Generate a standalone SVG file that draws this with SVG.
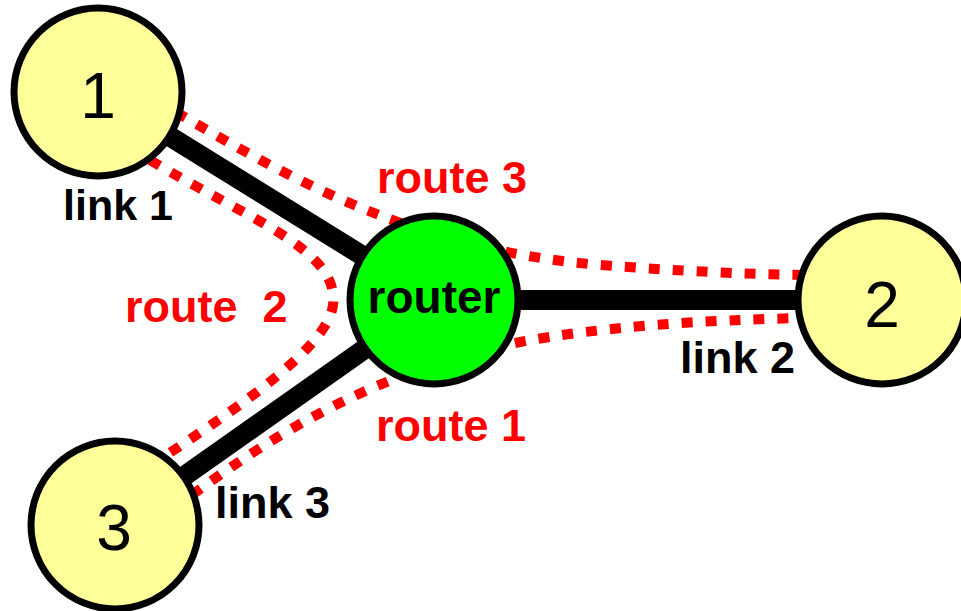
<svg xmlns="http://www.w3.org/2000/svg" width="961" height="611" viewBox="0 0 961 611">
<style>
.link{stroke:#000;stroke-width:20;fill:none}
.route{stroke:#ff0000;stroke-width:10;fill:none;stroke-dasharray:11 13}
.host{fill:#ffff99;stroke:#000;stroke-width:7}
.rtr{fill:#00ff00;stroke:#000;stroke-width:7}
.num{font-family:"Liberation Sans",Arial,sans-serif;font-size:64px;fill:#000;text-anchor:middle}
.lbl{font-family:"Liberation Sans",Arial,sans-serif;font-weight:bold;font-size:45px;fill:#000}
.rlbl{font-family:"Liberation Sans",Arial,sans-serif;font-weight:bold;font-size:45px;fill:#ff0000}
</style>
<rect width="961" height="611" fill="#fff"/>
<g id="connectors">
<line class="link" x1="98" y1="92" x2="434" y2="300"/>
<line class="link" x1="434" y1="300" x2="882" y2="300"/>
<line class="link" x1="115" y1="525" x2="434" y2="300"/>
<path class="route" d="M176 112 C300 185,420 250,600 265 C680 271,740 274,805 275"/>
<path class="route" d="M150 160 C250 220,340 250,333 305 C328 345,250 400,162 458"/>
<path class="route" d="M192 495 C280 430,380 370,520 342 C600 327,700 320,805 318"/>
</g>
<g id="node1"><circle class="host" cx="98" cy="92" r="84"/><text class="num" x="98" y="118">1</text></g>
<g id="node2"><circle class="host" cx="882" cy="300" r="84"/><text class="num" x="882" y="327">2</text></g>
<g id="node3"><circle class="host" cx="115" cy="525" r="84"/><text class="num" x="114" y="550">3</text></g>
<g id="router"><circle class="rtr" cx="434" cy="300" r="84"/><text class="lbl" x="434" y="313" text-anchor="middle" style="font-size:46px">router</text></g>
<g id="labels">
<text class="lbl" x="63" y="220" style="font-size:43px">link 1</text>
<text class="lbl" x="680" y="373">link 2</text>
<text class="lbl" x="215" y="518">link 3</text>
<text class="rlbl" x="377" y="193">route 3</text>
<text class="rlbl" x="125" y="322" xml:space="preserve">route  2</text>
<text class="rlbl" x="376" y="441">route 1</text>
</g>
</svg>
